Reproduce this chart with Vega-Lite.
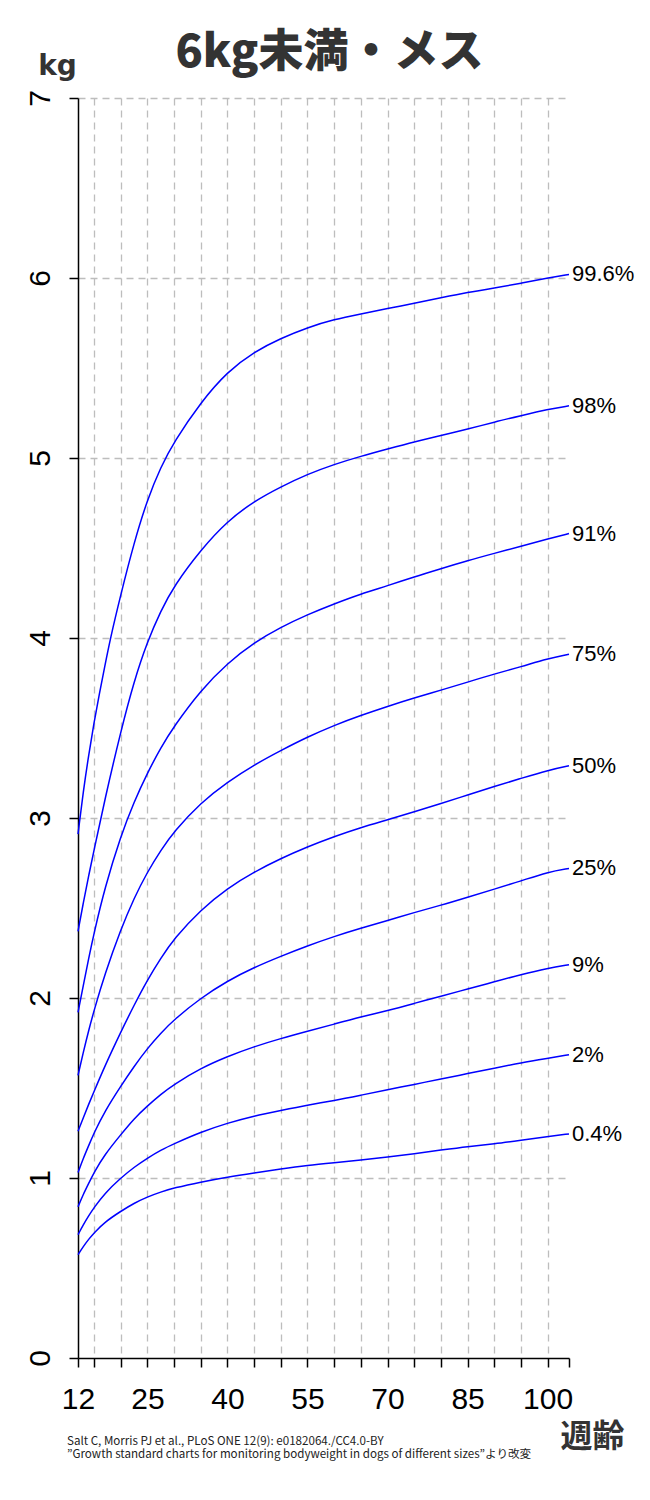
{
  "$schema": "https://vega.github.io/schema/vega-lite/v6.json",
  "autosize": "none",
  "width": 491,
  "height": 1260,
  "padding": {"left": 78, "top": 98, "right": 81, "bottom": 142},
  "background": "white",
  "config": {"view": {"stroke": null}},
  "title": {
    "text": "6kg未満・メス",
    "font": "Noto Sans CJK JP",
    "fontSize": 45,
    "fontWeight": 900,
    "color": "#333333",
    "anchor": "middle",
    "baseline": "alphabetic",
    "offset": 0,
    "dx": 6,
    "dy": 60
  },
  "datasets": {
    "curves": [
      {"p":"99.6%","w":12,"kg":2.91},{"p":"99.6%","w":13,"kg":3.15},{"p":"99.6%","w":14,"kg":3.35},{"p":"99.6%","w":15,"kg":3.53},{"p":"99.6%","w":16,"kg":3.69},{"p":"99.6%","w":17,"kg":3.84},{"p":"99.6%","w":18,"kg":3.99},{"p":"99.6%","w":20,"kg":4.24},{"p":"99.6%","w":22.5,"kg":4.53},{"p":"99.6%","w":25,"kg":4.77},{"p":"99.6%","w":27.5,"kg":4.95},{"p":"99.6%","w":30,"kg":5.09},{"p":"99.6%","w":35,"kg":5.31},{"p":"99.6%","w":40,"kg":5.48},{"p":"99.6%","w":45,"kg":5.59},{"p":"99.6%","w":50,"kg":5.665},{"p":"99.6%","w":55,"kg":5.725},{"p":"99.6%","w":60,"kg":5.77},{"p":"99.6%","w":65,"kg":5.8},{"p":"99.6%","w":70,"kg":5.83},{"p":"99.6%","w":75,"kg":5.86},{"p":"99.6%","w":80,"kg":5.89},{"p":"99.6%","w":85,"kg":5.92},{"p":"99.6%","w":90,"kg":5.945},{"p":"99.6%","w":95,"kg":5.97},{"p":"99.6%","w":100,"kg":6.0},{"p":"99.6%","w":104,"kg":6.02},
      {"p":"98%","w":12,"kg":2.37},{"p":"98%","w":13,"kg":2.53},{"p":"98%","w":14,"kg":2.68},{"p":"98%","w":15,"kg":2.82},{"p":"98%","w":17,"kg":3.1},{"p":"98%","w":20,"kg":3.48},{"p":"98%","w":22.5,"kg":3.76},{"p":"98%","w":25,"kg":3.98},{"p":"98%","w":27.5,"kg":4.15},{"p":"98%","w":30,"kg":4.29},{"p":"98%","w":35,"kg":4.49},{"p":"98%","w":40,"kg":4.65},{"p":"98%","w":45,"kg":4.76},{"p":"98%","w":50,"kg":4.84},{"p":"98%","w":55,"kg":4.91},{"p":"98%","w":60,"kg":4.965},{"p":"98%","w":65,"kg":5.01},{"p":"98%","w":70,"kg":5.05},{"p":"98%","w":75,"kg":5.09},{"p":"98%","w":80,"kg":5.125},{"p":"98%","w":85,"kg":5.16},{"p":"98%","w":90,"kg":5.2},{"p":"98%","w":95,"kg":5.235},{"p":"98%","w":100,"kg":5.27},{"p":"98%","w":104,"kg":5.29},
      {"p":"91%","w":12,"kg":1.92},{"p":"91%","w":13,"kg":2.07},{"p":"91%","w":14,"kg":2.22},{"p":"91%","w":15,"kg":2.36},{"p":"91%","w":17,"kg":2.61},{"p":"91%","w":20,"kg":2.9},{"p":"91%","w":22.5,"kg":3.09},{"p":"91%","w":25,"kg":3.25},{"p":"91%","w":27.5,"kg":3.39},{"p":"91%","w":30,"kg":3.51},{"p":"91%","w":35,"kg":3.71},{"p":"91%","w":40,"kg":3.86},{"p":"91%","w":45,"kg":3.975},{"p":"91%","w":50,"kg":4.06},{"p":"91%","w":55,"kg":4.13},{"p":"91%","w":60,"kg":4.19},{"p":"91%","w":65,"kg":4.245},{"p":"91%","w":70,"kg":4.29},{"p":"91%","w":75,"kg":4.34},{"p":"91%","w":80,"kg":4.385},{"p":"91%","w":85,"kg":4.43},{"p":"91%","w":90,"kg":4.47},{"p":"91%","w":95,"kg":4.51},{"p":"91%","w":100,"kg":4.55},{"p":"91%","w":104,"kg":4.58},
      {"p":"75%","w":12,"kg":1.57},{"p":"75%","w":13,"kg":1.7},{"p":"75%","w":14,"kg":1.82},{"p":"75%","w":15,"kg":1.93},{"p":"75%","w":17,"kg":2.13},{"p":"75%","w":20,"kg":2.38},{"p":"75%","w":22.5,"kg":2.555},{"p":"75%","w":25,"kg":2.7},{"p":"75%","w":27.5,"kg":2.82},{"p":"75%","w":30,"kg":2.925},{"p":"75%","w":35,"kg":3.085},{"p":"75%","w":40,"kg":3.2},{"p":"75%","w":45,"kg":3.295},{"p":"75%","w":50,"kg":3.375},{"p":"75%","w":55,"kg":3.45},{"p":"75%","w":60,"kg":3.515},{"p":"75%","w":65,"kg":3.57},{"p":"75%","w":70,"kg":3.62},{"p":"75%","w":75,"kg":3.667},{"p":"75%","w":80,"kg":3.71},{"p":"75%","w":85,"kg":3.755},{"p":"75%","w":90,"kg":3.8},{"p":"75%","w":95,"kg":3.84},{"p":"75%","w":100,"kg":3.885},{"p":"75%","w":104,"kg":3.91},
      {"p":"50%","w":12,"kg":1.26},{"p":"50%","w":13,"kg":1.335},{"p":"50%","w":14,"kg":1.41},{"p":"50%","w":15,"kg":1.48},{"p":"50%","w":17,"kg":1.62},{"p":"50%","w":20,"kg":1.81},{"p":"50%","w":22.5,"kg":1.96},{"p":"50%","w":25,"kg":2.1},{"p":"50%","w":27.5,"kg":2.22},{"p":"50%","w":30,"kg":2.33},{"p":"50%","w":35,"kg":2.49},{"p":"50%","w":40,"kg":2.61},{"p":"50%","w":45,"kg":2.7},{"p":"50%","w":50,"kg":2.775},{"p":"50%","w":55,"kg":2.84},{"p":"50%","w":60,"kg":2.897},{"p":"50%","w":65,"kg":2.947},{"p":"50%","w":70,"kg":2.99},{"p":"50%","w":75,"kg":3.035},{"p":"50%","w":80,"kg":3.08},{"p":"50%","w":85,"kg":3.128},{"p":"50%","w":90,"kg":3.175},{"p":"50%","w":95,"kg":3.22},{"p":"50%","w":100,"kg":3.265},{"p":"50%","w":104,"kg":3.29},
      {"p":"25%","w":12,"kg":1.03},{"p":"25%","w":13,"kg":1.11},{"p":"25%","w":14,"kg":1.18},{"p":"25%","w":15,"kg":1.25},{"p":"25%","w":17,"kg":1.37},{"p":"25%","w":20,"kg":1.51},{"p":"25%","w":22.5,"kg":1.62},{"p":"25%","w":25,"kg":1.72},{"p":"25%","w":27.5,"kg":1.805},{"p":"25%","w":30,"kg":1.88},{"p":"25%","w":35,"kg":2.0},{"p":"25%","w":40,"kg":2.095},{"p":"25%","w":45,"kg":2.17},{"p":"25%","w":50,"kg":2.232},{"p":"25%","w":55,"kg":2.29},{"p":"25%","w":60,"kg":2.342},{"p":"25%","w":65,"kg":2.388},{"p":"25%","w":70,"kg":2.43},{"p":"25%","w":75,"kg":2.475},{"p":"25%","w":80,"kg":2.515},{"p":"25%","w":85,"kg":2.56},{"p":"25%","w":90,"kg":2.605},{"p":"25%","w":95,"kg":2.65},{"p":"25%","w":100,"kg":2.7},{"p":"25%","w":104,"kg":2.72},
      {"p":"9%","w":12,"kg":0.84},{"p":"9%","w":13,"kg":0.91},{"p":"9%","w":14,"kg":0.97},{"p":"9%","w":15,"kg":1.03},{"p":"9%","w":17,"kg":1.13},{"p":"9%","w":20,"kg":1.24},{"p":"9%","w":22.5,"kg":1.33},{"p":"9%","w":25,"kg":1.4},{"p":"9%","w":27.5,"kg":1.465},{"p":"9%","w":30,"kg":1.52},{"p":"9%","w":35,"kg":1.61},{"p":"9%","w":40,"kg":1.675},{"p":"9%","w":45,"kg":1.73},{"p":"9%","w":50,"kg":1.775},{"p":"9%","w":55,"kg":1.815},{"p":"9%","w":60,"kg":1.855},{"p":"9%","w":65,"kg":1.895},{"p":"9%","w":70,"kg":1.93},{"p":"9%","w":75,"kg":1.97},{"p":"9%","w":80,"kg":2.01},{"p":"9%","w":85,"kg":2.05},{"p":"9%","w":90,"kg":2.09},{"p":"9%","w":95,"kg":2.13},{"p":"9%","w":100,"kg":2.165},{"p":"9%","w":104,"kg":2.185},
      {"p":"2%","w":12,"kg":0.685},{"p":"2%","w":13,"kg":0.74},{"p":"2%","w":14,"kg":0.79},{"p":"2%","w":15,"kg":0.835},{"p":"2%","w":17,"kg":0.915},{"p":"2%","w":20,"kg":1.0},{"p":"2%","w":22.5,"kg":1.06},{"p":"2%","w":25,"kg":1.11},{"p":"2%","w":27.5,"kg":1.155},{"p":"2%","w":30,"kg":1.19},{"p":"2%","w":35,"kg":1.255},{"p":"2%","w":40,"kg":1.305},{"p":"2%","w":45,"kg":1.345},{"p":"2%","w":50,"kg":1.375},{"p":"2%","w":55,"kg":1.405},{"p":"2%","w":60,"kg":1.43},{"p":"2%","w":65,"kg":1.46},{"p":"2%","w":70,"kg":1.49},{"p":"2%","w":75,"kg":1.52},{"p":"2%","w":80,"kg":1.55},{"p":"2%","w":85,"kg":1.58},{"p":"2%","w":90,"kg":1.61},{"p":"2%","w":95,"kg":1.64},{"p":"2%","w":100,"kg":1.665},{"p":"2%","w":104,"kg":1.685},
      {"p":"0.4%","w":12,"kg":0.574},{"p":"0.4%","w":13,"kg":0.62},{"p":"0.4%","w":14,"kg":0.66},{"p":"0.4%","w":15,"kg":0.695},{"p":"0.4%","w":17,"kg":0.755},{"p":"0.4%","w":20,"kg":0.815},{"p":"0.4%","w":22.5,"kg":0.86},{"p":"0.4%","w":25,"kg":0.895},{"p":"0.4%","w":27.5,"kg":0.922},{"p":"0.4%","w":30,"kg":0.945},{"p":"0.4%","w":35,"kg":0.978},{"p":"0.4%","w":40,"kg":1.005},{"p":"0.4%","w":45,"kg":1.028},{"p":"0.4%","w":50,"kg":1.05},{"p":"0.4%","w":55,"kg":1.07},{"p":"0.4%","w":60,"kg":1.085},{"p":"0.4%","w":65,"kg":1.1},{"p":"0.4%","w":70,"kg":1.117},{"p":"0.4%","w":75,"kg":1.135},{"p":"0.4%","w":80,"kg":1.155},{"p":"0.4%","w":85,"kg":1.175},{"p":"0.4%","w":90,"kg":1.19},{"p":"0.4%","w":95,"kg":1.21},{"p":"0.4%","w":100,"kg":1.23},{"p":"0.4%","w":104,"kg":1.245}
    ],
    "ends": [
      {"p":"99.6%","w":104,"kg":6.02},{"p":"98%","w":104,"kg":5.29},{"p":"91%","w":104,"kg":4.58},{"p":"75%","w":104,"kg":3.91},{"p":"50%","w":104,"kg":3.29},{"p":"25%","w":104,"kg":2.72},{"p":"9%","w":104,"kg":2.185},{"p":"2%","w":104,"kg":1.685},{"p":"0.4%","w":104,"kg":1.245}
    ]
  },
  "resolve": {"axis": {"y": "independent"}},
  "encoding": {
    "x": {
      "field": "w", "type": "quantitative",
      "scale": {"domain": [12, 104], "nice": false, "zero": false},
      "axis": {
        "values": [12, 15, 20, 25, 30, 35, 40, 45, 50, 55, 60, 65, 70, 75, 80, 85, 90, 95, 100, 104],
        "labelExpr": "indexof([12,25,40,55,70,85,100], datum.value) >= 0 ? datum.label : ''",
        "grid": true,
        "gridColor": "#bdbdbd", "gridWidth": 1.3, "gridDash": [7, 5],
        "gridOpacity": {"condition": {"test": "datum.value == 12 || datum.value == 104", "value": 0}, "value": 1},
        "domainColor": "black", "domainWidth": 1.5,
        "tickColor": "black", "tickWidth": 1.5, "tickSize": 9,
        "labelFont": "Liberation Sans Narrow, Liberation Sans",
        "labelFontSize": 30, "labelColor": "black",
        "labelBaseline": "alphabetic", "labelPadding": 41,
        "labelFlush": false, "labelOverlap": false,
        "title": ["Salt C, Morris PJ et al., PLoS ONE 12(9): e0182064./CC4.0-BY", "”Growth standard charts for monitoring bodyweight in dogs of different sizes”より改変"],
        "titleFont": "Noto Sans CJK JP", "titleFontSize": 11.6, "titleFontWeight": "normal",
        "titleColor": "#222222", "titleAlign": "left", "titleBaseline": "top",
        "titleX": -11.5, "titleY": 77, "titleLineHeight": 13
      }
    }
  },
  "layer": [
    {
      "data": {"name": "curves"},
      "mark": {"type": "line", "color": "#0000ff", "strokeWidth": 1.5, "interpolate": "basis"},
      "encoding": {
        "detail": {"field": "p", "type": "nominal"},
        "y": {
          "field": "kg", "type": "quantitative",
          "scale": {"domain": [0, 7], "nice": false},
          "axis": {
            "values": [0, 1, 2, 3, 4, 5, 6, 7],
            "grid": true,
            "gridColor": "#bdbdbd", "gridWidth": 1.3, "gridDash": [7, 5],
            "gridOpacity": {"condition": {"test": "datum.value == 0", "value": 0}, "value": 1},
            "domainColor": "black", "domainWidth": 1.5,
            "tickColor": "black", "tickWidth": 1.5, "tickSize": 9,
            "labelAngle": -90, "labelAlign": "center", "labelBaseline": "alphabetic",
            "labelPadding": 20,
            "labelFont": "Liberation Sans Narrow, Liberation Sans",
            "labelFontSize": 30, "labelColor": "black",
            "labelFlush": false, "labelOverlap": false,
            "title": "kg", "titleAngle": 0, "titleX": -21, "titleY": -32,
            "titleAlign": "center", "titleBaseline": "middle",
            "titleFont": "DejaVu Sans", "titleFontSize": 28, "titleFontWeight": "bold",
            "titleColor": "#333333"
          }
        }
      }
    },
    {
      "data": {"name": "ends"},
      "mark": {"type": "text", "align": "left", "baseline": "middle", "dx": 3, "font": "Liberation Sans", "fontSize": 22, "color": "black"},
      "encoding": {
        "y": {
          "field": "kg", "type": "quantitative",
          "axis": {
            "orient": "right", "domain": false, "ticks": false, "labels": false, "grid": false,
            "title": "週齢", "titleAngle": 0, "titleX": 23, "titleY": 1338,
            "titleAlign": "center", "titleBaseline": "middle",
            "titleFont": "Noto Sans CJK JP", "titleFontSize": 32, "titleFontWeight": "bold",
            "titleColor": "#333333"
          }
        },
        "text": {"field": "p", "type": "nominal"}
      }
    }
  ]
}
